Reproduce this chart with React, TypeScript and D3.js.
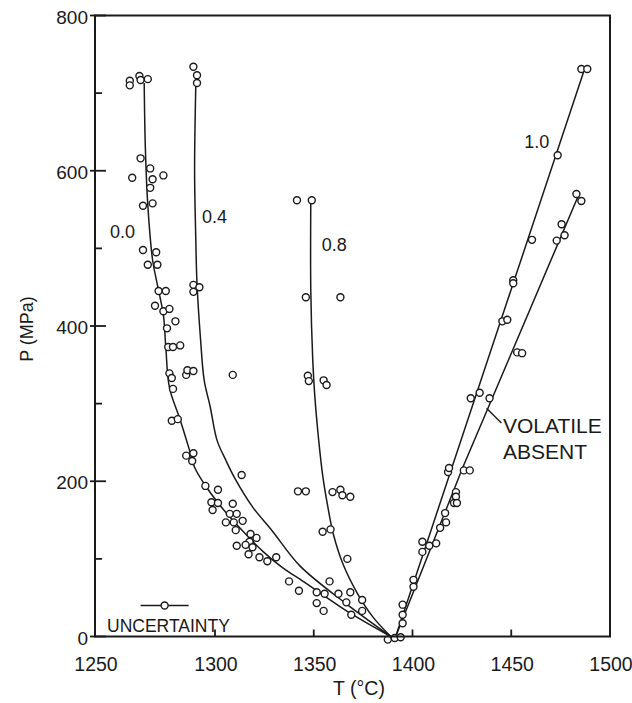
import React from 'react';
import * as d3 from 'd3';

const W = 632;
const H = 703;

// Runs as [T (°C), P (MPa)], grouped by the curve each one belongs to
const runs00: [number, number][] = [
  [1264.5, 716], [1264.5, 710], [1268.5, 722], [1269, 717], [1272, 718],
  [1269, 616], [1265.5, 591], [1273, 603], [1278.5, 594], [1274, 589], [1273, 578], [1270, 555], [1274, 558],
  [1270, 498], [1275.5, 495], [1272, 479], [1276, 479], [1276.5, 445], [1279.5, 445],
  [1275, 426], [1278.5, 419], [1281, 422], [1283.5, 406], [1280, 397],
  [1280.5, 373], [1282.5, 373], [1285.5, 375], [1281, 339], [1282, 333], [1282.5, 319],
  [1282, 278], [1284.5, 280], [1288, 233], [1291, 236], [1290.5, 226],
  [1296, 194], [1301.5, 189], [1298.5, 173], [1301.5, 172], [1299, 163], [1309, 171],
  [1307.5, 158], [1311, 158], [1305.5, 147], [1309.5, 147], [1314, 149], [1310.5, 137],
  [1318, 132], [1321, 127], [1317.5, 122], [1311, 117], [1315.5, 118], [1319, 115], [1317, 106],
  [1322.5, 102], [1326.5, 97], [1331, 102], [1337.5, 71], [1342.5, 59], [1351.5, 57], [1351.5, 43],
];

const runs04: [number, number][] = [
  [1291, 734], [1292.5, 723], [1292.5, 713], [1291, 453], [1291, 444], [1293.5, 450],
  [1288, 337], [1288.5, 343], [1291, 342], [1309, 337], [1313.5, 208], [1355.5, 55], [1355, 33],
];

const runs08: [number, number][] = [
  [1341.5, 562], [1349, 562], [1346, 437], [1363.5, 437], [1347, 336], [1347.5, 329], [1355, 330], [1356.5, 324],
  [1342, 187], [1346, 187], [1359.5, 186], [1363.5, 189], [1364.5, 182], [1368.5, 180],
  [1354.5, 135], [1358.5, 138], [1367, 100], [1358, 71], [1362.5, 55], [1368.5, 57], [1374.5, 47],
  [1366.5, 44], [1369, 28], [1374.5, 33],
];

const runs10: [number, number][] = [
  [1395, 41], [1395, 28], [1400.5, 73], [1400.5, 64], [1405, 122], [1405, 109], [1418, 212], [1418.5, 217],
  [1429.5, 307], [1434, 314], [1445.5, 406], [1448, 408], [1451, 459], [1451, 455], [1460.5, 511],
  [1473.5, 620], [1485.5, 731], [1488.5, 731],
];

const runsDry: [number, number][] = [
  [1387.5, -4], [1391, -2], [1394, -1], [1395, 17], [1408.5, 117], [1412, 120], [1416.5, 159], [1417, 147],
  [1414, 140], [1422, 186], [1422, 180], [1421, 172], [1422.5, 172], [1426, 214], [1429, 214], [1439, 307],
  [1453, 366], [1455.5, 365], [1473, 510], [1475.5, 531], [1477, 517], [1483, 570], [1485.5, 561],
];

// Fitted solidus curves for each volatile composition
const curve00: [number, number][] = [
  [1270.5, 713], [1271, 627], [1272, 556], [1274, 485], [1276, 453], [1278.5, 414], [1279.5, 373],
  [1281, 321], [1285.5, 279], [1289, 244], [1291.5, 218], [1295, 199], [1302.5, 169], [1312.5, 140],
  [1324.5, 109], [1334.5, 88], [1343, 74], [1368.5, 30], [1389, 0],
];
const curve04: [number, number][] = [
  [1292, 710], [1291.5, 601], [1292, 511], [1292.5, 455], [1294, 382], [1295.5, 330],
  [1298, 296], [1301, 253], [1305.5, 227], [1310, 204], [1319, 167], [1329, 136], [1343, 91],
  [1366, 43], [1389, 0],
];
const curve08: [number, number][] = [
  [1348.5, 560], [1348.5, 446], [1349.5, 356], [1350.5, 311], [1352.5, 253], [1354.5, 208],
  [1357, 169], [1360, 131], [1365, 92], [1372, 56], [1380, 25], [1389, 0],
];
const curve10: [number, number][] = [[1391.5, 0], [1451, 455], [1487, 730]];
const curveDry: [number, number][] = [[1391.5, 0], [1425.5, 218], [1484.5, 571]];

const curveLabels = [
  { text: '0.0', t: 1261.5, p: 513 },
  { text: '0.4', t: 1299.8, p: 533 },
  { text: '0.8', t: 1360.4, p: 496 },
  { text: '1.0', t: 1462.9, p: 629 },
];

const xTicks = [1250, 1300, 1350, 1400, 1450, 1500];
const yMajorTicks = [0, 200, 400, 600, 800];
const yMinorTicks = [100, 300, 500, 700];

// Typical error on a run temperature
const uncertainty = { t: 1279, p: 40, halfWidth: 10 };

const INK = '#1a1a1a';
const FONT = '"Liberation Sans", Arial, Helvetica, sans-serif';

export default function App() {
  const x = d3.scaleLinear().domain([1250, 1300, 1500]).range([95, 215, 610]);
  const y = d3.scaleLinear().domain([0, 800]).range([636.5, 15.5]);

  const smooth = d3
    .line<[number, number]>()
    .x((d) => x(d[0]))
    .y((d) => y(d[1]))
    .curve(d3.curveCatmullRom.alpha(0.5));
  const straight = d3
    .line<[number, number]>()
    .x((d) => x(d[0]))
    .y((d) => y(d[1]));

  const allRuns = [...runs00, ...runs04, ...runs08, ...runs10, ...runsDry];
  const [x0, x1] = [x(1250), x(1500)];
  const [yb, yt] = [y(0), y(800)];

  return (
    <svg
      width={W}
      height={H}
      viewBox={`0 0 ${W} ${H}`}
      style={{ position: 'absolute', left: 0, top: 0, background: '#fff' }}
      fontFamily={FONT}
    >
      <rect x={0} y={0} width={W} height={H} fill="#fff" />

      {/* curves */}
      <g fill="none" stroke={INK} strokeWidth={1.5}>
        <path d={smooth(curve00) ?? ''} />
        <path d={smooth(curve04) ?? ''} />
        <path d={smooth(curve08) ?? ''} />
        <path d={straight(curve10) ?? ''} />
        <path d={straight(curveDry) ?? ''} />
      </g>

      {/* runs */}
      <g fill="#fff" stroke={INK} strokeWidth={1.4}>
        {allRuns.map((d, i) => (
          <circle key={i} cx={x(d[0])} cy={y(d[1])} r={3.5} />
        ))}
      </g>

      {/* frame */}
      <rect x={x0} y={yt} width={x1 - x0} height={yb - yt} fill="none" stroke={INK} strokeWidth={2} />

      {/* ticks */}
      <g stroke={INK} strokeWidth={1.8}>
        {yMajorTicks.map((v) => (
          <line key={v} x1={x0 - 5} x2={x0 + 11} y1={y(v)} y2={y(v)} />
        ))}
        {yMinorTicks.map((v) => (
          <line key={v} x1={x0} x2={x0 + 7} y1={y(v)} y2={y(v)} />
        ))}
        {xTicks.slice(1, -1).map((v) => (
          <line key={v} x1={x(v)} x2={x(v)} y1={yb} y2={yb - 7} />
        ))}
      </g>

      <g fill={INK} fontSize={19}>
        {yMajorTicks.map((v) => (
          <text key={v} x={x0 - 7} y={y(v) + 1.5} textAnchor="end" dominantBaseline="central">
            {v}
          </text>
        ))}
      </g>
      <g fill={INK} fontSize={19.5}>
        {xTicks.map((v) => (
          <text key={v} x={x(v) + 1} y={670.5} textAnchor="middle">
            {v}
          </text>
        ))}
      </g>

      {/* axis titles */}
      <text x={359} y={695} textAnchor="middle" fontSize={19.5} fill={INK}>
        T (°C)
      </text>
      <text transform="translate(33,329) rotate(-90)" textAnchor="middle" fontSize={18} fill={INK}>
        P (MPa)
      </text>

      {/* curve labels */}
      <g fill={INK} fontSize={18}>
        {curveLabels.map((l) => (
          <text key={l.text} x={x(l.t)} y={y(l.p)} textAnchor="middle">
            {l.text}
          </text>
        ))}
      </g>

      {/* volatile-absent annotation */}
      <line x1={x(1437.5)} y1={y(294)} x2={x(1445)} y2={y(275)} stroke={INK} strokeWidth={1.4} />
      <g fill={INK} fontSize={21}>
        <text x={x(1445.8)} y={y(262.5)}>VOLATILE</text>
        <text x={x(1445.8)} y={y(228.7)}>ABSENT</text>
      </g>

      {/* uncertainty bar */}
      <line
        x1={x(uncertainty.t - uncertainty.halfWidth)}
        x2={x(uncertainty.t + uncertainty.halfWidth)}
        y1={y(uncertainty.p)}
        y2={y(uncertainty.p)}
        stroke={INK}
        strokeWidth={1.6}
      />
      <circle cx={x(uncertainty.t)} cy={y(uncertainty.p)} r={3.5} fill="#fff" stroke={INK} strokeWidth={1.4} />
      <text x={x(1255)} y={y(6)} fontSize={17.5} fill={INK}>
        UNCERTAINTY
      </text>
    </svg>
  );
}
